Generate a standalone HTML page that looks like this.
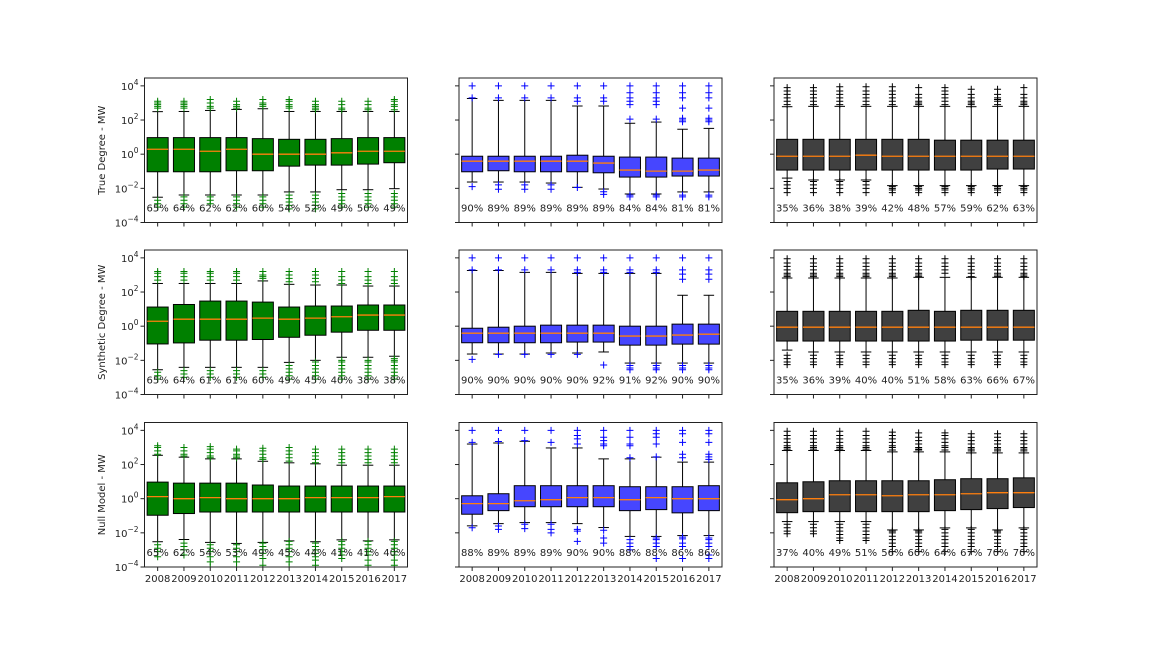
<!DOCTYPE html>
<html><head><meta charset="utf-8">
<style>
html,body{margin:0;padding:0;background:#fff;}
svg{display:block;font-family:"DejaVu Sans","Liberation Sans",sans-serif;}
</style></head>
<body>
<svg id="chart" width="1152" height="648" viewBox="0 0 1152 648"></svg>
<script>
const years = ["2008","2009","2010","2011","2012","2013","2014","2015","2016","2017"];
const rowTitles = ["True Degree - MW","Synthetic Degree - MW","Null Model - MW"];
const yTickExps = [4,2,0,-2,-4];

// values are log10(MW)
const r1gQ1=[-1.03,-1.03,-1.03,-0.97,-0.97,-0.70,-0.64,-0.64,-0.58,-0.50];
const r1gMed=[0.29,0.29,0.17,0.29,0,0,0,0.08,0.17,0.17];
const r1gQ3=[0.97,0.97,0.97,0.97,0.91,0.87,0.87,0.91,0.97,0.97];
const r1gLo=[-2.52,-2.39,-2.39,-2.39,-2.39,-2.21,-2.21,-2.08,-2.08,-2.02];
const r1gHi=[2.49,2.5,2.56,2.62,2.66,2.5,2.5,2.5,2.5,2.5];
const r1gOutHi=[[2.7,2.8,2.9,3.0,3.1],[2.7,2.8,2.9,3.0,3.1],[2.7,2.8,3.0,3.2],[2.7,2.8,2.9,3.1],[2.8,2.9,3.0,3.2],[2.7,2.8,2.9,3.1,3.2],[2.6,2.7,2.8,2.9,3.1],[2.6,2.7,2.9,3.1],[2.6,2.7,2.9,3.1],[2.6,2.8,2.9,3.1,3.2]];
const r1gOutLo=[[-2.7,-2.9,-3.1],[-2.5,-2.7,-2.9,-3.1],[-2.5,-2.7,-2.9],[-2.5,-2.7,-2.9,-3.1],[-2.5,-2.7,-2.9,-3.1],[-2.4,-2.6,-2.8,-3.0,-3.2],[-2.4,-2.6,-2.8,-3.0,-3.2],[-2.3,-2.5,-2.7,-2.9,-3.1],[-2.3,-2.5,-2.7,-2.9,-3.1],[-2.3,-2.5,-2.7,-2.9,-3.1]];
const r1gPct=["65%","64%","62%","62%","60%","54%","52%","49%","50%","49%"];

const r1bQ1=[-1.03,-0.97,-1.03,-1.03,-1.03,-1.09,-1.34,-1.34,-1.28,-1.28];
const r1bMed=[-0.41,-0.41,-0.41,-0.41,-0.41,-0.52,-0.93,-0.99,-0.99,-0.93];
const r1bQ3=[-0.12,-0.12,-0.12,-0.12,-0.06,-0.12,-0.17,-0.17,-0.23,-0.23];
const r1bLo=[-1.63,-1.63,-1.63,-1.69,-1.94,-2.04,-2.33,-2.33,-2.21,-2.21];
const r1bHi=[3.26,3.15,3.15,3.15,2.82,2.82,1.81,1.88,1.46,1.51];
const r1bOutHi=[[3.3,4.0],[3.3,4.0],[3.3,4.0],[3.3,4.0],[3.1,3.3,4.0],[3.1,3.3,4.0],[2.05,2.9,3.1,3.3,3.6,4.0],[2.05,2.9,3.1,3.3,3.6,4.0],[1.9,2.0,2.1,2.7,3.3,3.6,4.0],[1.9,2.0,2.1,2.7,3.3,3.6,4.0]];
const r1bOutLo=[[-1.9],[-1.8,-2.05],[-1.8,-2.05],[-1.8,-2.05],[-1.95],[-2.2,-2.35],[-2.4,-2.5],[-2.4,-2.5],[-2.4,-2.5],[-2.4,-2.5]];
const r1bPct=["90%","89%","89%","89%","89%","89%","84%","84%","81%","81%"];

const r1dQ1=[-0.93,-0.93,-0.93,-0.93,-0.93,-0.93,-0.93,-0.93,-0.87,-0.87];
const r1dMed=[-0.12,-0.12,-0.12,-0.06,-0.12,-0.12,-0.12,-0.12,-0.12,-0.12];
const r1dQ3=[0.87,0.87,0.87,0.87,0.87,0.87,0.82,0.82,0.82,0.82];
const r1dLo=[-1.4,-1.51,-1.51,-1.51,-1.84,-1.84,-1.84,-1.84,-1.84,-1.84];
const r1dHi=[2.78,2.8,2.8,2.8,2.8,2.8,2.8,2.78,2.8,2.8];
const r1dOutHi=[[2.9,3.1,3.3,3.5,3.7,3.9],[2.9,3.1,3.3,3.5,3.7,3.9],[2.9,3.1,3.3,3.5,3.7,3.95],[2.9,3.1,3.3,3.5,3.7,3.95],[2.9,3.1,3.3,3.5,3.7,3.95],[2.9,3.0,3.1,3.3,3.5,3.9],[2.9,3.1,3.3,3.5,3.7,3.9],[2.9,3.0,3.1,3.3,3.5,3.8],[2.9,3.1,3.2,3.3,3.5,3.8],[2.9,3.0,3.1,3.3,3.5,3.9]];
const r1dOutLo=[[-1.6,-1.8,-2.0,-2.25],[-1.6,-1.8,-2.0,-2.25],[-1.6,-1.8,-2.0,-2.25],[-1.6,-1.8,-2.0,-2.25],[-1.9,-2.0,-2.1,-2.25],[-1.9,-2.0,-2.1,-2.25],[-1.9,-2.0,-2.1,-2.25],[-1.9,-2.0,-2.1,-2.25],[-1.9,-2.0,-2.1,-2.25],[-1.9,-2.0,-2.1,-2.25]];
const r1dPct=["35%","36%","38%","39%","42%","48%","57%","59%","62%","63%"];

const r2gQ1=[-1.04,-0.98,-0.82,-0.82,-0.78,-0.65,-0.53,-0.35,-0.24,-0.24];
const r2gMed=[0.29,0.41,0.41,0.41,0.47,0.41,0.47,0.55,0.65,0.65];
const r2gQ3=[1.12,1.27,1.47,1.47,1.41,1.12,1.18,1.18,1.24,1.24];
const r2gLo=[-2.55,-2.41,-2.41,-2.41,-2.41,-2.12,-2.0,-1.82,-1.82,-1.76];
const r2gHi=[2.5,2.5,2.5,2.5,2.65,2.45,2.41,2.41,2.35,2.35];
const r2gOutHi=[[2.7,2.9,3.1,3.2],[2.7,2.9,3.1,3.2],[2.7,2.9,3.1,3.2],[2.7,2.9,3.1,3.2],[2.8,2.9,3.0,3.2],[2.6,2.8,3.0,3.2],[2.6,2.8,3.0,3.2],[2.5,2.7,2.9,3.2],[2.5,2.7,2.9,3.2],[2.5,2.7,2.9,3.2]];
const r2gOutLo=[[-2.7,-2.9,-3.1],[-2.6,-2.8,-3.0],[-2.6,-2.8,-3.0],[-2.6,-2.8,-3.0],[-2.6,-2.8,-3.0],[-2.3,-2.5,-2.7,-2.9,-3.1],[-2.1,-2.3,-2.5,-2.7,-2.9,-3.1],[-2.0,-2.1,-2.3,-2.5,-2.7,-2.9,-3.1],[-2.0,-2.1,-2.3,-2.5,-2.7,-2.9,-3.1],[-1.9,-2.0,-2.1,-2.3,-2.5,-2.7,-2.9,-3.1]];
const r2gPct=["65%","64%","61%","61%","60%","49%","45%","40%","38%","38%"];

const r2bQ1=[-0.97,-0.97,-0.97,-0.97,-0.93,-0.93,-1.11,-1.11,-1.05,-1.05];
const r2bMed=[-0.41,-0.41,-0.41,-0.41,-0.41,-0.41,-0.58,-0.58,-0.52,-0.47];
const r2bQ3=[-0.12,-0.06,0,0.06,0.06,0.06,0,0,0.12,0.12];
const r2bLo=[-1.63,-1.63,-1.63,-1.57,-1.57,-1.51,-2.16,-2.16,-2.16,-2.16];
const r2bHi=[3.26,3.26,3.15,3.15,3.09,3.09,3.09,3.09,1.81,1.81];
const r2bOutHi=[[3.3,4.0],[3.3,4.0],[3.3,4.0],[3.3,4.0],[3.15,3.3,4.0],[3.15,3.3,4.0],[3.15,3.3,4.0],[3.15,3.3,4.0],[2.75,3.05,3.3,4.0],[2.75,3.05,3.3,4.0]];
const r2bOutLo=[[-1.94],[-1.65],[-1.65],[-1.65],[-1.65],[-2.27],[-2.3,-2.45,-2.55],[-2.3,-2.45,-2.55],[-2.3,-2.45,-2.55],[-2.3,-2.45,-2.55]];
const r2bPct=["90%","90%","90%","90%","90%","92%","91%","92%","90%","90%"];

const r2dQ1=[-0.87,-0.87,-0.87,-0.87,-0.87,-0.87,-0.87,-0.82,-0.82,-0.82];
const r2dMed=[-0.06,-0.06,-0.06,-0.06,-0.06,-0.06,-0.06,-0.06,-0.06,-0.06];
const r2dQ3=[0.87,0.87,0.87,0.87,0.87,0.93,0.87,0.93,0.93,0.93];
const r2dLo=[-1.4,-1.51,-1.51,-1.51,-1.51,-1.51,-1.51,-1.51,-1.51,-1.51];
const r2dHi=[2.82,2.82,2.82,2.82,2.82,2.86,2.86,2.86,2.86,2.86];
const r2dOutHi=[[2.9,3.0,3.1,3.3,3.5,3.7,3.95],[2.9,3.0,3.1,3.3,3.5,3.7,3.95],[2.9,3.0,3.1,3.3,3.5,3.7,3.95],[2.9,3.0,3.1,3.3,3.5,3.7,3.95],[2.9,3.0,3.1,3.3,3.5,3.7,3.95],[2.9,3.0,3.1,3.3,3.5,3.7,3.95],[3.1,3.3,3.5,3.7,3.95],[2.9,3.1,3.3,3.5,3.7,3.95],[2.9,3.0,3.1,3.3,3.5,3.7,3.95],[2.9,3.0,3.1,3.3,3.5,3.7,3.95]];
const r2dOutLo=[[-1.7,-1.9,-2.1,-2.25],[-1.7,-1.9,-2.1,-2.25],[-1.7,-1.9,-2.1,-2.25],[-1.7,-1.9,-2.1,-2.25],[-1.7,-1.9,-2.1,-2.25],[-1.7,-1.9,-2.1,-2.25],[-1.7,-1.9,-2.1,-2.25],[-1.7,-1.9,-2.1,-2.25],[-1.7,-1.9,-2.1,-2.25],[-1.7,-1.9,-2.1,-2.25]];
const r2dPct=["35%","36%","39%","40%","40%","51%","58%","63%","66%","67%"];

const r3gQ1=[-0.97,-0.87,-0.78,-0.78,-0.78,-0.78,-0.78,-0.78,-0.78,-0.78];
const r3gMed=[0.12,0,0.06,0,0,0,0.06,0.06,0.06,0.12];
const r3gQ3=[0.97,0.91,0.91,0.91,0.8,0.74,0.74,0.74,0.74,0.74];
const r3gLo=[-2.52,-2.39,-2.56,-2.62,-2.56,-2.47,-2.52,-2.41,-2.47,-2.41];
const r3gHi=[2.54,2.43,2.33,2.33,2.19,2.1,2.04,1.96,1.96,1.96];
const r3gOutHi=[[2.6,2.8,3.0,3.1],[2.5,2.6,2.8,3.0],[2.4,2.5,2.7,2.9,3.05],[2.4,2.5,2.6,2.8,2.9],[2.3,2.4,2.6,2.8,2.95],[2.2,2.4,2.6,2.8,3.0],[2.1,2.3,2.5,2.7,2.9],[2.1,2.3,2.5,2.7,2.9],[2.1,2.3,2.5,2.7,2.9],[2.1,2.3,2.5,2.7,2.9]];
const r3gOutLo=[[-2.7,-2.9,-3.1,-3.4],[-2.6,-2.8,-3.0,-3.3],[-2.7,-2.9,-3.1,-3.4,-3.7,-4.0],[-2.7,-2.9,-3.1,-3.4,-3.7,-4.0],[-2.6,-2.8,-3.0,-3.2,-3.5,-3.9],[-2.5,-2.7,-2.9,-3.1,-3.4,-3.7,-4.0],[-2.6,-2.8,-3.0,-3.2,-3.4,-3.6,-3.9],[-2.5,-2.7,-2.9,-3.1,-3.3,-3.5],[-2.5,-2.7,-2.9,-3.1,-3.3,-3.6,-3.9],[-2.5,-2.7,-2.9,-3.1,-3.3,-3.6,-3.9]];
const r3gPct=["65%","62%","54%","53%","49%","45%","44%","41%","41%","40%"];

const r3bQ1=[-0.91,-0.7,-0.47,-0.47,-0.47,-0.47,-0.7,-0.64,-0.83,-0.7];
const r3bMed=[-0.29,-0.29,-0.12,-0.06,0.06,0.06,-0.06,0.06,0,0];
const r3bQ3=[0.17,0.29,0.76,0.76,0.76,0.76,0.7,0.7,0.7,0.76];
const r3bLo=[-1.59,-1.46,-1.4,-1.4,-1.46,-1.69,-2.21,-2.21,-2.16,-2.16];
const r3bHi=[3.2,3.26,3.36,2.97,2.97,2.33,2.33,2.43,2.14,2.14];
const r3bOutHi=[[3.3,4.0],[3.35,4.0],[3.4,4.0],[3.3,4.0],[3.2,3.5,3.7,4.0],[3.1,3.2,3.4,3.6,4.0],[2.4,3.1,3.2,3.6,4.0],[2.45,3.2,3.6,3.8,4.0],[2.4,2.6,3.3,3.8,4.0],[2.3,2.45,2.6,3.3,3.8,4.0]];
const r3bOutLo=[[-1.7],[-1.6,-1.8],[-1.5,-1.75],[-1.5,-1.8,-2.0],[-1.8,-1.9,-2.5],[-1.85,-2.3,-2.6],[-2.4,-2.6,-2.8,-3.0],[-2.3,-2.4,-2.6,-2.8,-3.5],[-2.25,-2.35,-2.6,-2.8,-3.5],[-2.3,-2.4,-2.6,-2.8,-3.3,-3.5]];
const r3bPct=["88%","89%","89%","89%","90%","90%","88%","88%","86%","86%"];

const r3dQ1=[-0.82,-0.76,-0.76,-0.76,-0.76,-0.76,-0.7,-0.64,-0.58,-0.52];
const r3dMed=[-0.06,0,0.23,0.23,0.17,0.23,0.23,0.29,0.35,0.35];
const r3dQ3=[0.93,0.99,1.05,1.05,1.05,1.05,1.11,1.17,1.17,1.22];
const r3dLo=[-1.34,-1.34,-1.34,-1.34,-1.83,-1.83,-1.71,-1.71,-1.83,-1.71];
const r3dHi=[2.82,2.82,2.82,2.82,2.74,2.74,2.74,2.68,2.68,2.68];
const r3dOutHi=[[2.9,3.0,3.1,3.3,3.5,3.7,3.95],[2.9,3.0,3.1,3.3,3.5,3.7,3.95],[2.9,3.0,3.1,3.3,3.5,3.7,3.95],[2.9,3.0,3.1,3.3,3.5,3.7,3.95],[2.85,3.0,3.1,3.3,3.5,3.7,3.9],[2.85,2.9,3.0,3.2,3.4,3.6,3.85],[2.85,3.0,3.1,3.3,3.5,3.7,3.85],[2.8,2.9,3.0,3.2,3.4,3.6,3.8],[2.8,2.9,3.0,3.2,3.4,3.6,3.8],[2.8,2.9,3.0,3.2,3.4,3.6,3.8]];
const r3dOutLo=[[-1.5,-1.7,-1.9,-2.05],[-1.5,-1.7,-1.9,-2.05],[-1.5,-1.7,-1.9,-2.1,-2.3,-2.45],[-1.5,-1.7,-1.9,-2.1,-2.3,-2.45],[-1.9,-2.0,-2.2,-2.4,-2.6,-2.8,-3.1],[-1.9,-2.0,-2.2,-2.4,-2.6,-2.8,-3.1],[-1.8,-2.0,-2.2,-2.4,-2.6,-2.8,-3.1],[-1.8,-2.0,-2.2,-2.4,-2.6,-2.8,-3.1],[-1.9,-2.0,-2.2,-2.4,-2.6,-2.8,-3.1],[-1.8,-2.0,-2.2,-2.4,-2.6,-2.8,-3.1]];
const r3dPct=["37%","40%","49%","51%","56%","60%","64%","67%","70%","70%"];

const colLeft=[144.5,459,774], colWidth=263;
const rowTop=[78,250,422.5], rowHeight=144.5;
const yMinLog=-4, pxPerDecade=17.08;
const greenC="#008000", blueC="#4646ff", darkC="#404040";

const panels=[
 [r1gQ1,r1gMed,r1gQ3,r1gLo,r1gHi,r1gOutHi,r1gOutLo,r1gPct,greenC,greenC],
 [r1bQ1,r1bMed,r1bQ3,r1bLo,r1bHi,r1bOutHi,r1bOutLo,r1bPct,blueC,"#0000ff"],
 [r1dQ1,r1dMed,r1dQ3,r1dLo,r1dHi,r1dOutHi,r1dOutLo,r1dPct,darkC,"#000"],
 [r2gQ1,r2gMed,r2gQ3,r2gLo,r2gHi,r2gOutHi,r2gOutLo,r2gPct,greenC,greenC],
 [r2bQ1,r2bMed,r2bQ3,r2bLo,r2bHi,r2bOutHi,r2bOutLo,r2bPct,blueC,"#0000ff"],
 [r2dQ1,r2dMed,r2dQ3,r2dLo,r2dHi,r2dOutHi,r2dOutLo,r2dPct,darkC,"#000"],
 [r3gQ1,r3gMed,r3gQ3,r3gLo,r3gHi,r3gOutHi,r3gOutLo,r3gPct,greenC,greenC],
 [r3bQ1,r3bMed,r3bQ3,r3bLo,r3bHi,r3bOutHi,r3bOutLo,r3bPct,blueC,"#0000ff"],
 [r3dQ1,r3dMed,r3dQ3,r3dLo,r3dHi,r3dOutHi,r3dOutLo,r3dPct,darkC,"#000"]
];

const NS="http://www.w3.org/2000/svg";
const svg=document.getElementById("chart");
function mk(tag,attrs,parent){const e=document.createElementNS(NS,tag);for(const k in attrs)e.setAttribute(k,attrs[k]);(parent||svg).appendChild(e);return e;}

panels.forEach((p,idx)=>{
  const r=Math.floor(idx/3), c=idx%3;
  const L=colLeft[c], T=rowTop[r], B=T+rowHeight;
  const xs=i=>L+(i+0.5)*colWidth/10;
  const ys=v=>B-(v-yMinLog)*pxPerDecade;
  const unit=colWidth/10;
  const g=mk("g",{});
  
  
  const cp=mk("clipPath",{id:"cp"+idx},g);
  mk("rect",{x:L,y:T,width:colWidth,height:rowHeight},cp);
  const inner=mk("g",{"clip-path":"url(#cp"+idx+")"},g);
  const [q1,med,q3,lo,hi,oh,ol,pct,fill,oc]=p;
  for(let i=0;i<10;i++){
    const x=xs(i), bw=unit*0.8, cw=bw/2;
    const bg=mk("g",{},inner);
    
    
    mk("line",{x1:x,x2:x,y1:ys(hi[i]),y2:ys(q3[i]),stroke:"#000","stroke-width":1},bg);
    mk("line",{x1:x,x2:x,y1:ys(q1[i]),y2:ys(lo[i]),stroke:"#000","stroke-width":1},bg);
    mk("line",{x1:x-cw/2,x2:x+cw/2,y1:ys(hi[i]),y2:ys(hi[i]),stroke:"#000","stroke-width":1},bg);
    mk("line",{x1:x-cw/2,x2:x+cw/2,y1:ys(lo[i]),y2:ys(lo[i]),stroke:"#000","stroke-width":1},bg);
    mk("rect",{x:x-bw/2,y:ys(q3[i]),width:bw,height:ys(q1[i])-ys(q3[i]),fill:fill,stroke:"#000","stroke-width":1},bg);
    mk("line",{x1:x-bw/2,x2:x+bw/2,y1:ys(med[i]),y2:ys(med[i]),stroke:"#ff7f0e","stroke-width":1.3},bg);
    oh[i].concat(ol[i]).forEach(v=>{
      const y=ys(v);
      const o=mk("path",{d:`M${x-3.5},${y}H${x+3.5}M${x},${y-3.5}V${y+3.5}`,stroke:oc,"stroke-width":1,fill:"none"},bg);
      
      
    });
    const t=mk("text",{x:x,y:B-11,"font-size":"10","text-anchor":"middle",fill:"#222"},g);
    t.textContent=pct[i];
    
    
  }
  const fr=mk("rect",{x:L,y:T,width:colWidth,height:rowHeight,fill:"none",stroke:"#222","stroke-width":1},g);
  
  
  yTickExps.forEach(e=>{
    const y=ys(e);
    mk("line",{x1:L-4,x2:L,y1:y,y2:y,stroke:"#222","stroke-width":1},g);
    if(c===0){
      const t=mk("text",{x:L-6,y:y+4,"font-size":"10","text-anchor":"end",fill:"#222"},g);
      
      
      const a=mk("tspan",{},t); a.textContent="10";
      const b=mk("tspan",{dy:"-5","font-size":"7.5"},t); b.textContent=String(e).replace("-","\u2212");
    }
  });
  for(let i=0;i<10;i++){
    mk("line",{x1:xs(i),x2:xs(i),y1:B,y2:B+4,stroke:"#222","stroke-width":1},g);
    if(r===2){
      const t=mk("text",{x:xs(i),y:B+15,"font-size":"10","text-anchor":"middle",fill:"#222"},g);
      t.textContent=years[i];
      
      
    }
  }
  if(c===0){
    const cy=T+rowHeight/2;
    const t=mk("text",{x:0,y:0,"font-size":"10","text-anchor":"middle",fill:"#222",transform:`translate(105,${cy}) rotate(-90)`},g);
    t.textContent=rowTitles[r];
    
    
  }
});
</script>
</body></html>
